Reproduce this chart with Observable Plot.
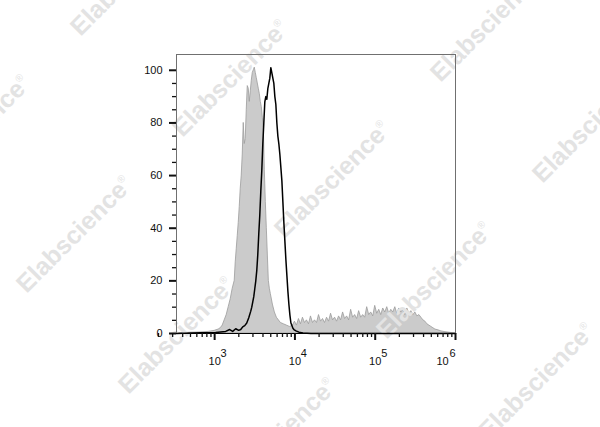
<!DOCTYPE html>
<html>
<head>
<meta charset="utf-8">
<script src="https://cdn.jsdelivr.net/npm/d3@7"></script>
<script src="https://cdn.jsdelivr.net/npm/@observablehq/plot@0.6"></script>
<style>
  html, body { margin: 0; padding: 0; background: #fff; }
  #chart svg { display: block; }
</style>
</head>
<body>
<div id="chart"></div>
<script>
// ---- Data ----
// Control histogram (filled grey): log10 fluorescence and normalized count
const grayLog = [2.525, 2.7, 2.825, 2.925, 3.0, 3.05, 3.075, 3.1, 3.125, 3.15, 3.175, 3.2, 3.225, 3.25,
  3.2625, 3.275, 3.2875, 3.3, 3.3125, 3.325, 3.3375, 3.35, 3.3625, 3.375, 3.3875, 3.4, 3.4125, 3.425,
  3.4375, 3.45, 3.4625, 3.475, 3.4875, 3.5, 3.5125, 3.525, 3.5375, 3.55, 3.5625, 3.575, 3.5875, 3.6,
  3.6125, 3.625, 3.6375, 3.65, 3.6625, 3.675, 3.6875, 3.7, 3.725, 3.75, 3.775, 3.8, 3.825, 3.8625, 3.9,
  3.9375, 3.975,
  4.0, 4.025, 4.05, 4.075, 4.1, 4.125, 4.15, 4.175, 4.2, 4.225, 4.25, 4.275, 4.3, 4.325, 4.35, 4.375,
  4.4, 4.425, 4.45, 4.475, 4.5, 4.525, 4.55, 4.575, 4.6, 4.625, 4.65, 4.675, 4.7, 4.725, 4.75, 4.775,
  4.8, 4.825, 4.85, 4.875, 4.9, 4.925, 4.95, 4.975, 5.0, 5.025, 5.05, 5.075, 5.1, 5.125, 5.15, 5.175,
  5.2, 5.225, 5.25, 5.275, 5.3, 5.325, 5.35, 5.375, 5.4, 5.425, 5.45, 5.475, 5.5, 5.525, 5.55, 5.575,
  5.6, 5.625, 5.65, 5.675, 5.7, 5.725, 5.75, 5.7875, 5.825, 5.875, 5.925, 5.975, 6.0];
const grayCount = [0, 0.3, 0.4, 0.6, 1, 1.5, 2, 3, 5, 7, 10, 13, 17, 20,
  27, 32, 37, 42, 48, 55, 60, 68, 80, 72, 74, 85, 94, 93,
  88, 92, 96, 99, 100, 101, 99, 97, 95, 93, 91, 88, 86, 82,
  78, 62, 50, 40, 30, 20, 17, 15, 11, 8, 6, 5, 4, 3.5, 3,
  2.5, 3,
  4.5, 3, 5.5, 3.5, 6, 4, 5, 3.5, 6.5, 4, 5, 4, 7, 4.5, 5.5, 4,
  6, 4.5, 7.5, 5, 6, 4.5, 6.5, 5, 8, 5.5, 6.5, 5, 9, 6, 7, 5.5,
  8.5, 6, 7, 6, 10, 7, 8, 6.5, 10.5, 7.5, 9, 7, 9.5, 8, 10, 7.5,
  9, 8, 10, 7.5, 9.5, 8, 9, 7, 9.5, 7.5, 8.5, 7, 8, 6.5, 7, 6,
  5, 4.5, 3.5, 3, 2.5, 2, 1.5, 1.2, 0.8, 0.5, 0.3, 0.1, 0];

// Stained histogram (black line)
const blackLog = [2.525, 2.825, 3.0125, 3.1375, 3.1875, 3.225, 3.2625, 3.3, 3.325, 3.35, 3.375, 3.4,
  3.425, 3.45, 3.4625, 3.475, 3.4875, 3.5, 3.5125, 3.525, 3.5375, 3.55, 3.5625, 3.575, 3.5875, 3.6,
  3.6125, 3.625, 3.6375, 3.65, 3.6625, 3.675, 3.6875, 3.7, 3.7125, 3.725, 3.7375, 3.75, 3.7625, 3.775,
  3.7875, 3.8, 3.8125, 3.825, 3.8375, 3.85, 3.8625, 3.875, 3.8875, 3.9, 3.9125, 3.925, 3.9375, 3.95,
  3.9625, 3.975, 3.9875, 4.0125, 4.05, 4.1, 4.2, 6.0];
const blackCount = [0, 0.3, 0.4, 0.8, 1.5, 0.8, 1.8, 1.2, 1.5, 2.5, 3, 4,
  6, 8.5, 10, 12, 14, 17, 20, 24, 30, 38, 45, 54, 62, 72,
  80, 88, 90, 89, 93, 95, 97, 101, 99, 97, 95, 90, 87, 80,
  75, 72, 68, 63, 58, 50, 42, 35, 28, 22, 16, 11, 7, 4,
  3, 2, 1.5, 1, 0.5, 0.2, 0, 0];

// Axis ticks
const yTicks = [0, 20, 40, 60, 80, 100];
const yMinorTicks = [5, 10, 15, 25, 30, 35, 45, 50, 55, 65, 70, 75, 85, 90, 95];
const xExponents = [3, 4, 5, 6];
const xMinorMultipliers = [2, 3, 4, 5, 6, 7, 8, 9];
const watermarkText = "Elabscience";

// ---- Build tables ----
const grayData = grayLog.map((l, i) => ({x: 10 ** l, y: grayCount[i]}));
const blackData = blackLog.map((l, i) => ({x: 10 ** l, y: blackCount[i]}));
const xMajor = xExponents.map(e => 10 ** e);
const xMinor = [];
for (const e of [2, 3, 4, 5]) for (const m of xMinorMultipliers) xMinor.push(m * 10 ** e);

const FONT = "'Liberation Sans', Arial, Helvetica, sans-serif";

// Watermark layer (decoration drawn in pixel space)
function watermark(index, scales, values, dimensions) {
  const g = d3.create("svg:g").attr("fill", "#e3e3e3").attr("font-family", FONT)
    .attr("font-weight", "bold").attr("font-size", 25);
  const ox = 230, oy = 78, ax = 156, ay = -156, px = 102, py = 101;
  for (let i = -4; i <= 4; i++) {
    for (let j = -4; j <= 6; j++) {
      const cx = ox + i * ax + j * px, cy = oy + i * ay + j * py;
      if (cx < -120 || cx > dimensions.width + 120 || cy < -120 || cy > dimensions.height + 120) continue;
      const t = g.append("text")
        .attr("transform", `translate(${cx},${cy}) rotate(-45)`)
        .attr("text-anchor", "middle").attr("dy", "0.35em");
      t.append("tspan").text(watermarkText);
      t.append("tspan").attr("font-size", 10).attr("font-weight", "normal").attr("dy", "-1.1em").text("®");
    }
  }
  return g.node();
}

const chart = Plot.plot({
  width: 600,
  height: 427,
  marginLeft: 176,
  marginRight: 145,
  marginTop: 54,
  marginBottom: 94,
  style: {fontFamily: FONT, fontSize: "11px", color: "#111", background: "#fff"},
  x: {type: "log", domain: [10 ** 2.525, 1e6]},
  y: {domain: [0, 106]},
  marks: [
    Plot.areaY(grayData, {x: "x", y: "y", fill: "#cbcbcb", stroke: "#9c9c9c", strokeWidth: 0.8}),
    watermark,
    Plot.line(blackData, {x: "x", y: "y", stroke: "#000", strokeWidth: 1.5}),
    Plot.frame({stroke: "#707070", strokeWidth: 1}),
    Plot.ruleY([0], {stroke: "#000", strokeWidth: 1.2}),
    Plot.axisY({ticks: yTicks, tickSize: 7, tickPadding: 7, strokeWidth: 2, fontSize: 11, label: null}),
    Plot.axisY({ticks: yMinorTicks, tickSize: 4, strokeWidth: 1.3, tickFormat: () => "", label: null}),
    Plot.axisX({ticks: xMajor, tickSize: 7, strokeWidth: 2, tickFormat: () => "", label: null}),
    Plot.axisX({ticks: xMinor, tickSize: 4, strokeWidth: 1.3, tickFormat: () => "", label: null}),
    Plot.text(xExponents.filter(e => e < 6), {x: e => 10 ** e, text: () => "10", frameAnchor: "bottom", dy: 31, fontSize: 11}),
    Plot.text(xExponents.filter(e => e < 6), {x: e => 10 ** e, text: e => String(e), frameAnchor: "bottom", dy: 23, dx: 9, fontSize: 11}),
    Plot.text(xExponents.filter(e => e === 6), {x: e => 10 ** e, text: () => "10", frameAnchor: "bottom", dy: 31, dx: -13, fontSize: 11}),
    Plot.text(xExponents.filter(e => e === 6), {x: e => 10 ** e, text: e => String(e), frameAnchor: "bottom", dy: 23, dx: -3, fontSize: 11})
  ]
});
document.getElementById("chart").appendChild(chart);
</script>
</body>
</html>
